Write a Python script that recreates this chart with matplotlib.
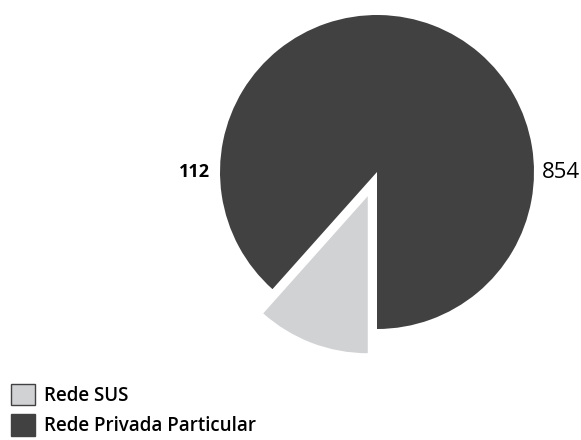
import matplotlib.pyplot as plt
from matplotlib.patches import Patch

labels = ['Rede SUS', 'Rede Privada Particular']
values = [112, 854]
colors = ['#d1d2d4', '#414141']

W, H = 581, 440
fig = plt.figure(figsize=(W / 100, H / 100), dpi=100)

# pie centre (px from top-left) and radius in px
cx, cy, r = 377, 172, 157
half = 200
ax = fig.add_axes([(cx - half) / W, (H - cy - half) / H, 2 * half / W, 2 * half / H])
wedges, _ = ax.pie(values, colors=colors, startangle=270, counterclock=False,
                   explode=[0.165, 0], radius=1,
                   wedgeprops=dict(linewidth=0))
lim = half / r
ax.set_xlim(-lim, lim)
ax.set_ylim(-lim, lim)

ax.text(-1.16, 0.0, str(values[0]), ha='center', va='center',
        fontsize=13, fontweight='bold', family='Open Sans')
ax.text(1.17, 0.0, str(values[1]), ha='center', va='center',
        fontsize=16, family='Open Sans')

handles = [Patch(facecolor=colors[0], edgecolor='#414141', linewidth=1),
           Patch(facecolor=colors[1], edgecolor=colors[1])]
leg = fig.legend(handles, labels, loc='lower left', bbox_to_anchor=(0.012, 0.0),
                 frameon=False, handlelength=1.3, handleheight=1.35,
                 handletextpad=0.45, labelspacing=0.45, borderaxespad=0.1,
                 borderpad=0.1,
                 prop=dict(family='Open Sans', weight='semibold', size=13.5))

fig.savefig('out.png', dpi=100)
